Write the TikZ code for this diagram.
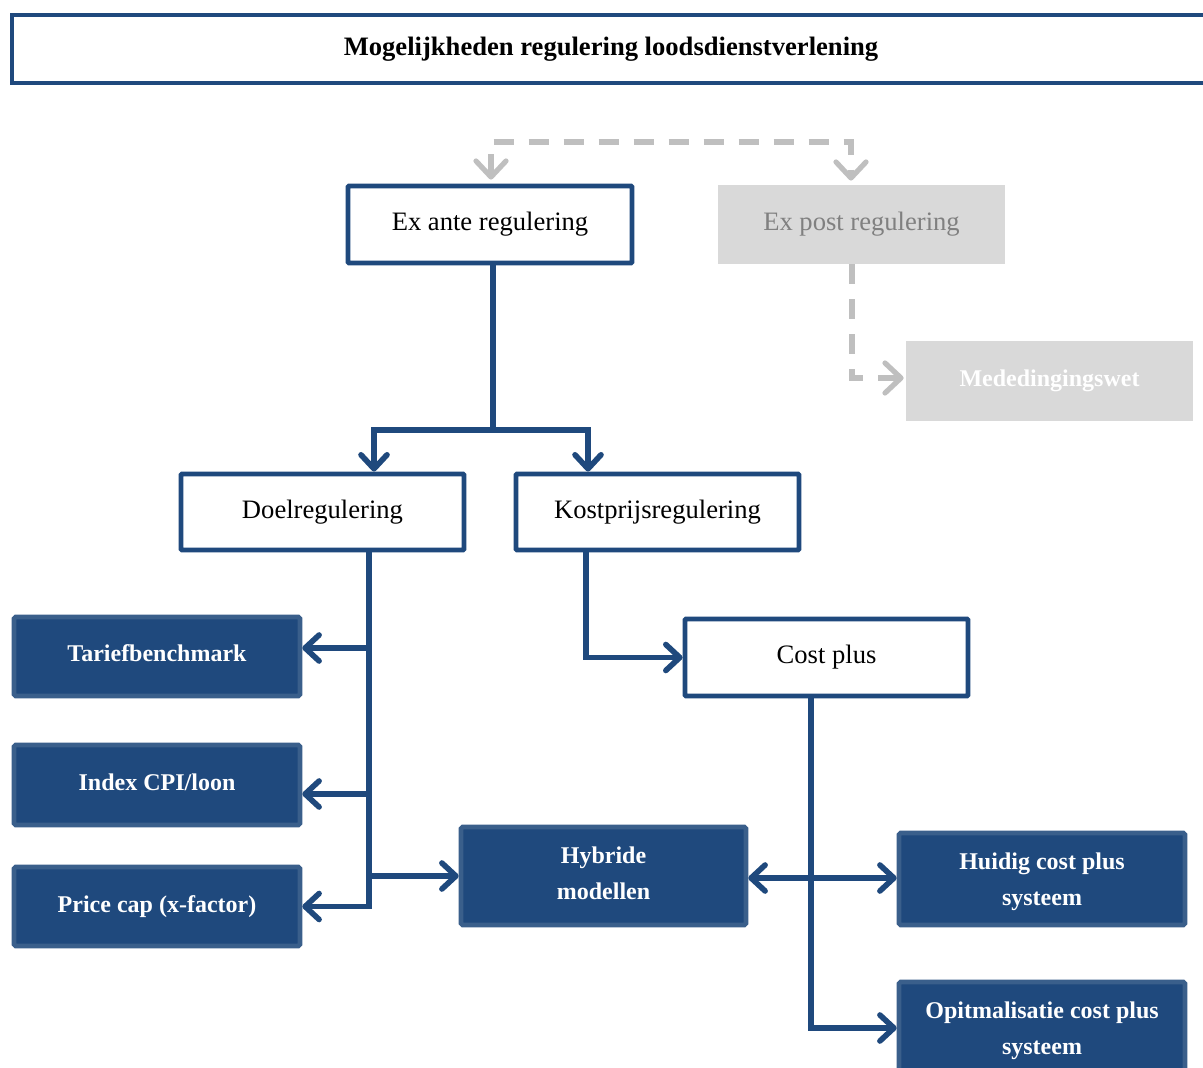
\documentclass[tikz,border=0pt]{standalone}
\usepackage{fontspec}
\setmainfont{Liberation Serif}
\usetikzlibrary{arrows.meta}
\definecolor{dblue}{RGB}{31,73,125}
\definecolor{lblue}{RGB}{58,95,139}
\definecolor{lgray}{RGB}{217,217,217}
\definecolor{dgray}{RGB}{191,191,191}
\definecolor{tgray}{RGB}{128,128,128}
\newcommand{\upby}[2]{\raisebox{#1}[\height][\depth]{#2}}
\tikzset{
  outbox/.style={draw=dblue, line width=2.4pt, fill=white, rounded corners=0.5pt, align=center,
    font=\fontsize{13.3}{18}\selectfont, inner sep=0pt},
  fillbox/.style={draw=lblue, fill=dblue, line width=2.3pt, rounded corners=0.8pt, align=center,
    text=white, font=\fontsize{12}{18}\selectfont\bfseries, inner sep=0pt},
  graybox/.style={fill=lgray, align=center, font=\fontsize{13.3}{18}\selectfont, inner sep=0pt},
  conn/.style={draw=dblue, line width=2.8pt},
  gconn/.style={draw=dgray, line width=2.6pt, dash pattern=on 10pt off 7.5pt},
  >={Straight Barb[length=7pt, width=13pt, round]},
  gtip/.style={>={Straight Barb[length=8pt, width=15pt, round]}}
}
\begin{document}
\begin{tikzpicture}[x=0.5pt, y=-0.5pt]
\clip (0,0) rectangle (1203,1068);
\fill[white] (0,0) rectangle (1203,1068);
% title
\node[draw=dblue, line width=2.2pt, minimum width=599pt, minimum height=34pt, inner sep=0pt,
  font=\fontsize{13.3}{15}\selectfont\bfseries] (title) at (611,49) {Mogelijkheden regulering loodsdienstverlening};
% top level
\node[outbox, minimum width=142pt, minimum height=38.5pt] (exante) at (490,224.5) {Ex ante regulering};
\node[graybox, text=tgray, minimum width=143.5pt, minimum height=39.5pt] (expost) at (861.5,224.5) {Ex post regulering};
\node[graybox, text=white, font=\fontsize{12}{18}\selectfont\bfseries, minimum width=143.5pt, minimum height=40pt] (meded) at (1049.5,381) {Mededingingswet};
% second level
\node[outbox, minimum width=141.5pt, minimum height=38pt] (doel) at (322.5,512) {Doelregulering};
\node[outbox, minimum width=141.5pt, minimum height=38pt] (kost) at (657.5,512) {Kostprijsregulering};
\node[outbox, minimum width=141.5pt, minimum height=38.5pt] (costplus) at (826.5,657.5) {Cost plus};
% filled boxes
\node[fillbox, minimum width=143pt, minimum height=39.5pt] (tarief) at (157,656.5) {\upby{1.5pt}{Tariefbenchmark}};
\node[fillbox, minimum width=143pt, minimum height=40pt] (index) at (157,785) {\upby{1.5pt}{Index CPI/loon}};
\node[fillbox, minimum width=143pt, minimum height=39.5pt] (price) at (157,906.5) {Price cap (x-factor)};
\node[fillbox, minimum width=142.5pt, minimum height=49pt] (hybride) at (603.5,876) {\upby{1.5pt}{Hybride}\\\upby{1.5pt}{modellen}};
\node[fillbox, minimum width=143pt, minimum height=46pt] (huidig) at (1042,879) {\upby{-1.5pt}{Huidig cost plus}\\\upby{-1.5pt}{systeem}};
\node[fillbox, minimum width=143pt, minimum height=46pt] (opit) at (1042,1028) {\upby{-1.5pt}{Opitmalisatie cost plus}\\\upby{-1.5pt}{systeem}};
% gray dashed connectors
\coordinate (g1) at (491,142);
\coordinate (g2) at (851,142);
\draw[gconn, gtip, <->, shorten <=2pt, shorten >=2pt] (exante.north -| g1) -- (g1) -- (g2) -- (expost.north -| g2);
\coordinate (g3) at (852,378);
\draw[gconn, gtip, ->, shorten >=1pt] (expost.south -| g3) -- (g3) -- (meded.west |- g3);
% ex ante tree
\coordinate (j1) at (493,430);
\coordinate (j2) at (374,430);
\coordinate (j3) at (588,430);
\draw[conn] (exante.south -| j1) -- (j1);
\draw[conn, ->] (j1) -- (j2) -- (doel.north -| j2);
\draw[conn, ->] (j1) -- (j3) -- (kost.north -| j3);
% doel trunk
\coordinate (dv) at (369,0);
\draw[conn, ->] (doel.south -| dv) |- (price.east);
\coordinate (t1) at (369,648);
\draw[conn, ->] (t1) -- (tarief.east |- t1);
\coordinate (t2) at (369,794);
\draw[conn, ->] (t2) -- (index.east |- t2);
\draw[conn, ->] (dv |- hybride.west) -- (hybride.west);
% kost
\coordinate (kv) at (586,0);
\draw[conn, ->] (kost.south -| kv) |- (costplus.west);
% cost plus
\coordinate (cv) at (811,0);
\draw[conn, ->] (costplus.south -| cv) |- (opit.west);
\coordinate (h1) at (0,878);
\draw[conn, <->] (hybride.east |- h1) -- (huidig.west |- h1);
\end{tikzpicture}
\end{document}
